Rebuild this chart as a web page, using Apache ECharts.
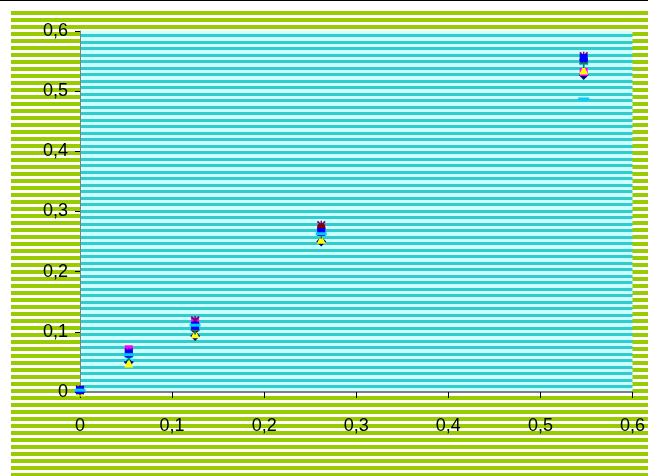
<!DOCTYPE html>
<html><head><meta charset="utf-8">
<script src="https://cdn.jsdelivr.net/npm/echarts@6/dist/echarts.min.js"></script>
<style>html,body{margin:0;padding:0;background:#fff}#c{width:648px;height:476px}</style>
</head><body><div id="c"></div>
<script>
var xValues = [0, 0.053, 0.125, 0.262, 0.547];
var seriesNames = ['S1','S2','S3','S4','S5','S6','S7','S8','S9'];
var s1 = [0.000, 0.050, 0.093, 0.250, 0.527];
var s2 = [0.002, 0.071, 0.117, 0.272, 0.532];
var s3 = [0.000, 0.048, 0.097, 0.254, 0.535];
var s4 = [0.003, 0.058, 0.108, 0.265, 0.550];
var s5 = [0.004, 0.066, 0.119, 0.277, 0.558];
var s6 = [0.003, 0.063, 0.105, 0.274, 0.552];
var s7 = [0.002, 0.060, 0.103, 0.262, 0.546];
var s8 = [0.003, 0.064, 0.110, 0.266, 0.555];
var s9 = [0.003, 0.062, 0.111, 0.263, 0.487];
var xTicks = [0, 0.1, 0.2, 0.3, 0.4, 0.5, 0.6];

function tile(h, rows, colors){
  var c = document.createElement('canvas'); c.width = 8; c.height = h;
  var g = c.getContext('2d');
  for (var i = 0; i < h; i++){ g.fillStyle = colors[rows[i]]; g.fillRect(0, i, 8, 1); }
  return c;
}
var outerTile = tile(7, [0,0,0,0,1,1,1], ['#99CC00','#FFFFFF']);
var plotTile = tile(13, [1,1,0,0,0,1,1,1,0,0,0,1,1], ['#33CCCC','#CCFFFF']);

var X = 'path://M0,1.4 L1.4,0 L5,3.6 L8.6,0 L10,1.4 L6.4,5 L10,8.6 L8.6,10 L5,6.4 L1.4,10 L0,8.6 L3.6,5 Z';
var STAR = 'path://M0,1.4 L1.4,0 L5,3.6 L8.6,0 L10,1.4 L6.4,5 L10,8.6 L8.6,10 L5,6.4 L1.4,10 L0,8.6 L3.6,5 Z M4.2,0 L5.8,0 L5.8,10 L4.2,10 Z';
var PLUS = 'path://M4,0 L6,0 L6,4 L10,4 L10,6 L6,6 L6,10 L4,10 L4,6 L0,6 L0,4 L4,4 Z';

var defs = [
  [s1, '#000080', 'diamond', 10],
  [s2, '#FF00FF', 'rect', 8],
  [s3, '#FFFF00', 'triangle', 9],
  [s4, '#00FFFF', X, 9],
  [s5, '#800080', STAR, 9],
  [s6, '#800000', 'circle', 8],
  [s7, '#008080', PLUS, 9],
  [s8, '#0000FF', 'rect', 8],
  [s9, '#00CCFF', 'rect', [11, 3]]
];
var series = defs.map(function(d, i){
  return {
    name: seriesNames[i], type: 'scatter', symbol: d[2], symbolSize: d[3],
    itemStyle: {color: d[1], opacity: 1}, z: 3 + i,
    data: xValues.map(function(x, j){ return [x, d[0][j]]; })
  };
});
function fmt(v){ return String(Math.round(v*10)/10).replace('.', ','); }

var chart = echarts.init(document.getElementById('c'));
chart.setOption({
  animation: false,
  backgroundColor: '#FFFFFF',
  graphic: [
    {type: 'rect', left: 0, top: 0, shape: {width: 648, height: 1}, style: {fill: '#000'}, z: -20},
    {type: 'rect', left: 11, top: 11, shape: {width: 637, height: 465}, style: {fill: {image: outerTile, repeat: 'repeat'}}, z: -10}
  ],
  grid: {left: 80, right: 13, top: 31, bottom: 84, show: true, backgroundColor: {image: plotTile, repeat: 'repeat'}, borderWidth: 0},
  xAxis: {
    type: 'value', min: 0, max: 0.6, interval: 0.1,
    axisLine: {show: true, onZero: false, lineStyle: {color: '#808080', width: 2}},
    axisTick: {show: true, inside: false, length: 6, lineStyle: {color: '#000', width: 1}},
    splitLine: {show: false},
    axisLabel: {formatter: fmt, color: '#000', fontSize: 18, fontFamily: 'Liberation Sans, Arial', margin: 25, showMaxLabel: true}
  },
  yAxis: {
    type: 'value', min: 0, max: 0.6, interval: 0.1,
    axisLine: {show: true, onZero: false, lineStyle: {color: '#808080', width: 1}},
    axisTick: {show: true, inside: false, length: 5, lineStyle: {color: '#000', width: 1}},
    splitLine: {show: false},
    axisLabel: {formatter: fmt, color: '#000', fontSize: 18, fontFamily: 'Liberation Sans, Arial', margin: 12}
  },
  series: series
});
</script></body></html>
